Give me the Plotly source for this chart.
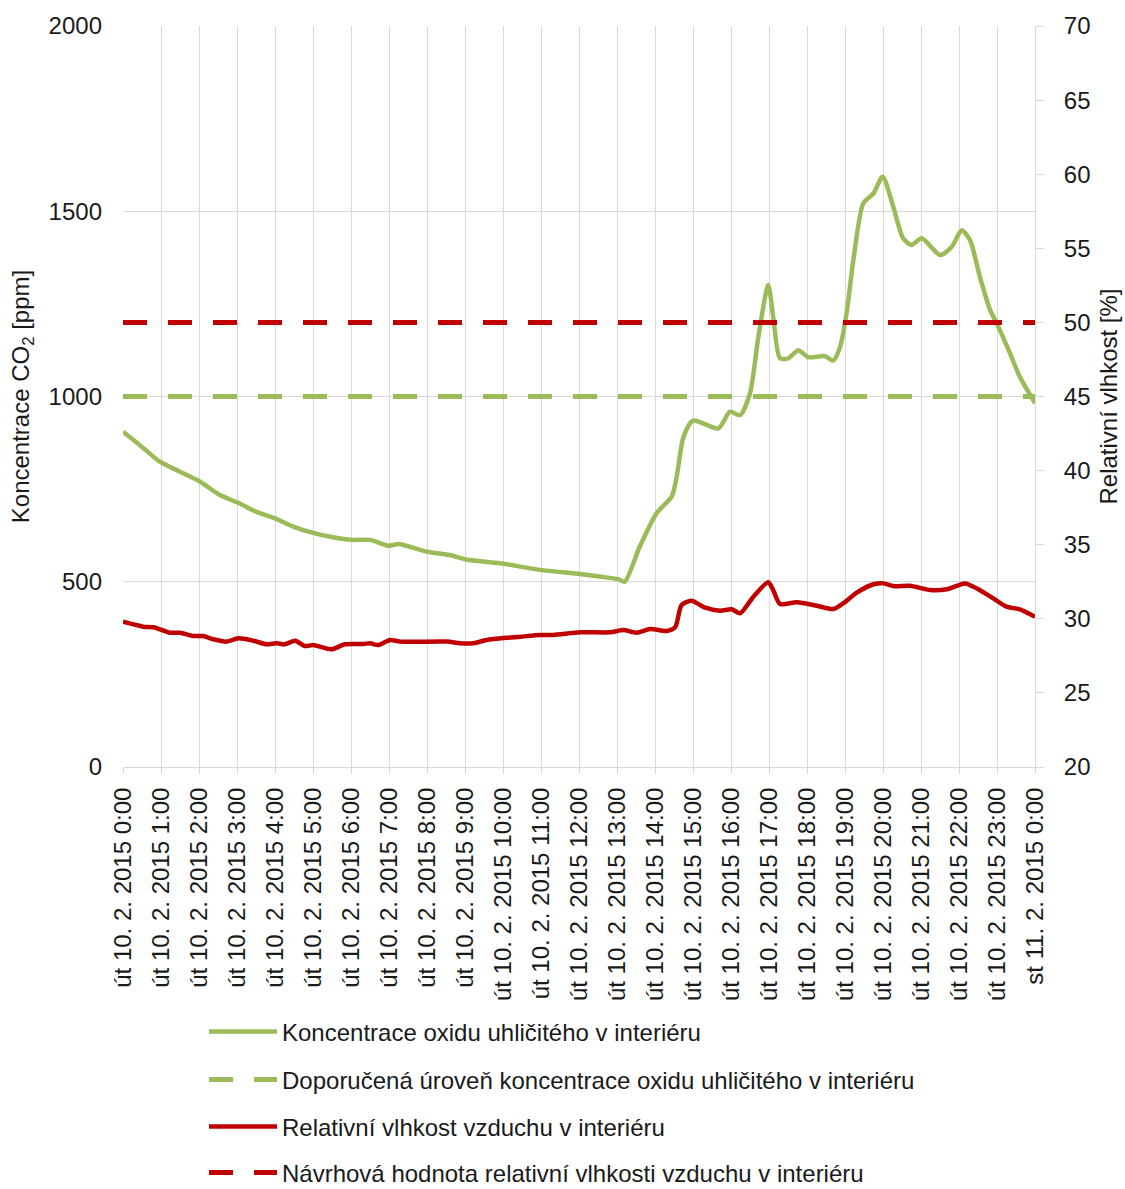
import plotly.graph_objects as go

# Hour offsets from midnight 10. 2. 2015 and measured values
co2_hours = [0, 0.5, 0.97, 1.5, 2.03, 2.55, 3.03, 3.5, 4.0, 4.48,
             5.0, 5.53, 6.02, 6.5, 7.0, 7.25, 8.0, 8.6, 9.04, 9.92,
             10.97, 12.03, 12.55, 13.03, 13.2, 13.6, 14.04, 14.44, 14.57, 14.75,
             15.0, 15.67, 15.97, 16.24, 16.5, 16.72, 16.98, 17.11, 17.29, 17.51,
             17.77, 18.03, 18.47, 18.69, 18.87, 19.04, 19.22, 19.48, 19.75, 19.99,
             20.27, 20.53, 20.75, 21.02, 21.5, 21.81, 22.07, 22.29, 22.55, 22.82,
             22.99, 23.34, 23.6, 24.0]
co2_ppm = [905, 864, 824, 797, 770, 734, 713, 689, 671, 649,
           632, 620, 613, 613, 597, 602, 581, 572, 560, 550,
           532, 521, 514, 507, 500, 595, 685, 730, 783, 891,
           935, 914, 959, 950, 1009, 1161, 1301, 1215, 1103, 1103,
           1125, 1106, 1109, 1097, 1134, 1224, 1368, 1521, 1548, 1593,
           1512, 1427, 1409, 1427, 1382, 1404, 1449, 1422, 1323, 1233,
           1198, 1117, 1053, 982]

rh_hours = [0, 0.53, 0.8, 1.24, 1.5, 1.85, 2.11, 2.38, 2.73, 3.03,
            3.43, 3.78, 4.04, 4.26, 4.53, 4.79, 5.0, 5.49, 5.84, 6.32,
            6.5, 6.72, 7.03, 7.29, 8.52, 8.87, 9.22, 9.57, 10.1, 10.45,
            10.97, 11.32, 12.03, 12.82, 13.17, 13.52, 13.87, 14.31, 14.53, 14.7,
            14.96, 15.32, 15.71, 16.02, 16.24, 16.59, 16.98, 17.11, 17.29, 17.73,
            18.26, 18.69, 18.95, 19.31, 19.75, 20.01, 20.27, 20.71, 21.24, 21.68,
            22.16, 22.46, 22.9, 23.25, 23.6, 24.0]
rh_pct = [29.80, 29.47, 29.43, 29.06, 29.06, 28.84, 28.84, 28.62, 28.46, 28.68,
          28.52, 28.28, 28.35, 28.28, 28.52, 28.16, 28.23, 27.94, 28.28, 28.30,
          28.35, 28.23, 28.57, 28.46, 28.46, 28.35, 28.35, 28.57, 28.72, 28.79,
          28.91, 28.91, 29.09, 29.09, 29.24, 29.06, 29.31, 29.18, 29.43, 30.93,
          31.22, 30.75, 30.55, 30.64, 30.37, 31.49, 32.46, 31.94, 31.00, 31.11,
          30.88, 30.66, 31.04, 31.76, 32.33, 32.39, 32.21, 32.23, 31.94, 31.99,
          32.39, 32.06, 31.38, 30.82, 30.64, 30.14]

# Reference levels
co2_limit = 1000
rh_design = 50
span_hours = [0, 24]

tick_hours = list(range(25))
tick_labels = [f"út 10. 2. 2015 {h}:00" for h in range(24)] + ["st 11. 2. 2015 0:00"]

names = [
    "Koncentrace oxidu uhličitého v interiéru",
    "Doporučená úroveň koncentrace oxidu uhličitého v interiéru",
    "Relativní vlhkost vzduchu v interiéru",
    "Návrhová hodnota relativní vlhkosti vzduchu v interiéru",
]

GREEN = "#9bbb59"
RED = "#c00000"
GRID = "#d9d9d9"
INK = "#1a1a1a"
FONT = "Liberation Sans, Arial, sans-serif"
DASH = "24px,21px"

fig = go.Figure()
fig.add_trace(go.Scatter(x=co2_hours, y=co2_ppm, mode="lines", name=names[0],
                         line=dict(color=GREEN, width=4.5, shape="spline", smoothing=0.7),
                         legend="legend"))
fig.add_trace(go.Scatter(x=span_hours, y=[co2_limit] * 2, mode="lines", name=names[1],
                         line=dict(color=GREEN, width=5, dash=DASH), legend="legend2"))
fig.add_trace(go.Scatter(x=rh_hours, y=rh_pct, mode="lines", name=names[2], yaxis="y2",
                         line=dict(color=RED, width=4.5, shape="spline", smoothing=0.7),
                         legend="legend3"))
fig.add_trace(go.Scatter(x=span_hours, y=[rh_design] * 2, mode="lines", name=names[3], yaxis="y2",
                         line=dict(color=RED, width=5, dash=DASH), legend="legend4"))

plot_top, plot_bottom, plot_left, plot_right = 26, 767, 123, 1035
plot_h = plot_bottom - plot_top
plot_w = plot_right - plot_left


def legend_at(y_px):
    return dict(x=(204 - plot_left) / plot_w, y=(plot_bottom - y_px) / plot_h,
                xanchor="left", yanchor="middle", bgcolor="rgba(0,0,0,0)",
                font=dict(family=FONT, size=24, color=INK), itemwidth=68)


fig.update_layout(
    width=1125, height=1189,
    showlegend=True,
    margin=dict(l=plot_left, r=1125 - plot_right, t=plot_top, b=1189 - plot_bottom,
                autoexpand=False),
    paper_bgcolor="white", plot_bgcolor="white",
    font=dict(family=FONT, color=INK),
    xaxis=dict(range=[0, 24], tickvals=tick_hours, ticktext=tick_labels, tickangle=-90,
               showgrid=True, gridcolor=GRID, gridwidth=1, zeroline=False,
               showline=True, linecolor=GRID, linewidth=1,
               ticks="outside", ticklen=6, tickcolor=GRID, ticklabelstandoff=4,
               tickfont=dict(family=FONT, size=24, color=INK)),
    yaxis=dict(range=[0, 2000], dtick=500, showgrid=True, gridcolor=GRID, zeroline=False,
               showline=False, ticks="", ticklabelstandoff=20,
               tickfont=dict(family=FONT, size=24, color=INK),
               title=dict(text="Koncentrace CO<sub>2</sub> [ppm]", standoff=12,
                          font=dict(family=FONT, size=24, color=INK))),
    yaxis2=dict(range=[20, 70], dtick=5, overlaying="y", side="right", showgrid=False,
                zeroline=False, showline=True, linecolor=GRID, ticks="outside", ticklen=8,
                tickcolor=GRID, ticklabelstandoff=15,
                tickfont=dict(family=FONT, size=24, color=INK),
                title=dict(text="Relativní vlhkost [%]", standoff=10,
                           font=dict(family=FONT, size=24, color=INK))),
    legend=legend_at(1032),
    legend2=legend_at(1080),
    legend3=legend_at(1127),
    legend4=legend_at(1173),
)

fig.write_html("out.html")
